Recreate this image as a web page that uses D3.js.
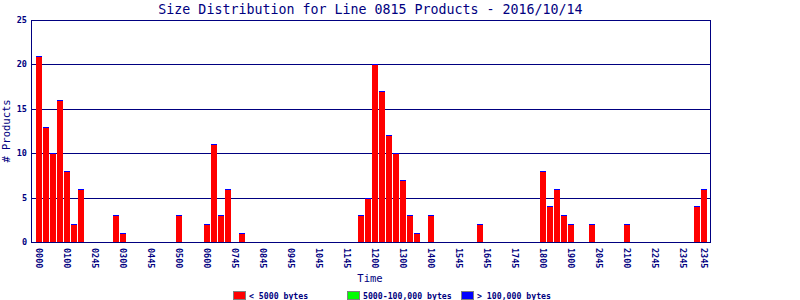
<!DOCTYPE html>
<html>
<head>
<meta charset="utf-8">
<script src="https://cdn.jsdelivr.net/npm/d3@7"></script>
<style>
body { margin:0; background:#fff; }
text { font-family:"DejaVu Sans Mono", monospace; fill:#000080; }
rect, line { shape-rendering:crispEdges; }
</style>
</head>
<body>
<svg id="chart"></svg>
<script>
// one slot every 15 minutes, 96 slots in the day
var slots = d3.range(96);

// products under 5000 bytes per slot (index -> count)
var smallCounts = [21,13,10,16,8,2,6,0,0,0,0,3,1,0,0,0,0,0,0,0,
                   3,0,0,0,2,11,3,6,0,1,0,0,0,0,0,0,0,0,0,0,
                   0,0,0,0,0,0,3,5,20,17,12,10,7,3,1,0,3,0,0,0,
                   0,0,0,2,0,0,0,0,0,0,0,0,8,4,6,3,2,0,0,2,
                   0,0,0,0,2,0,0,0,0,0,0,0,0,0,4,6];
// 5000-100,000 bytes and > 100,000 bytes (none on this day)
var mediumCounts = slots.map(function(){ return 0; });
var largeCounts = slots.map(function(){ return 0; });

var tickSlots = [0,4,8,12,16,20,24,28,32,36,40,44,48,52,56,60,64,68,72,76,80,84,88,92,95];
var tickLabels = ["0000","0100","0245","0300","0445","0500","0600","0745","0845","0945",
                  "1045","1145","1200","1300","1400","1545","1645","1745","1800","1900",
                  "2045","2100","2245","2345","2345"];
var yTicks = [0,5,10,15,20,25];

var legendNames = ["< 5000 bytes","5000-100,000 bytes","> 100,000 bytes"];
var legendColors = ["#ff0000","#00ff00","#0000ff"];

var screen = {width:800, height:300};
var plot = {left:31, right:710, top:20, bottom:242};
var navy = "#000080";

var svg = d3.select("#chart")
    .attr("width",screen.width)
    .attr("height",screen.height);

var xScale = d3.scaleBand()
    .domain(slots)
    .range([36,707])
    .paddingInner(1/7)
    .paddingOuter(0);

var yScale = d3.scaleLinear()
    .domain([0,25])
    .range([plot.bottom,plot.top]);

var crisp = function(v){ return Math.round(v)+0.5; };
var total = function(i){ return smallCounts[i]+mediumCounts[i]+largeCounts[i]; };

// title
svg.append("text")
    .attr("x",(plot.left+plot.right)/2)
    .attr("y",14)
    .attr("text-anchor","middle")
    .style("font-size","13.3px")
    .text("Size Distribution for Line 0815 Products - 2016/10/14");

// grid lines
svg.append("g")
    .selectAll("line")
    .data(yTicks.slice(1,-1))
    .enter()
    .append("line")
    .attr("x1",plot.left)
    .attr("x2",plot.right)
    .attr("y1",function(d){ return crisp(yScale(d)); })
    .attr("y2",function(d){ return crisp(yScale(d)); })
    .attr("stroke",navy);

var filled = slots.filter(function(i){ return total(i) > 0; });

// bars (stacked: small at the bottom)
var bars = svg.append("g");
bars.selectAll("rect.small")
    .data(filled)
    .enter()
    .append("rect")
    .attr("x",function(i){ return xScale(i); })
    .attr("width",xScale.bandwidth())
    .attr("y",function(i){ return Math.round(yScale(smallCounts[i])); })
    .attr("height",function(i){ return yScale(0)-Math.round(yScale(smallCounts[i])); })
    .attr("fill",legendColors[0]);

// the top series is drawn as a cap of at least 1px on every bar
bars.selectAll("rect.large")
    .data(filled)
    .enter()
    .append("rect")
    .attr("x",function(i){ return xScale(i); })
    .attr("width",xScale.bandwidth())
    .attr("y",function(i){ return Math.round(yScale(total(i))); })
    .attr("height",function(i){
        return Math.max(1,Math.round(yScale(0)-yScale(largeCounts[i])));
    })
    .attr("fill",legendColors[2]);

// frame
svg.append("rect")
    .attr("x",plot.left+0.5)
    .attr("y",plot.top+0.5)
    .attr("width",plot.right-plot.left)
    .attr("height",plot.bottom-plot.top)
    .attr("fill","none")
    .attr("stroke",navy);

// y labels
svg.append("g")
    .selectAll("text")
    .data(yTicks)
    .enter()
    .append("text")
    .attr("x",27)
    .attr("y",function(d){ return yScale(d)+3; })
    .attr("text-anchor","end")
    .style("font-size","8.5px")
    .style("font-weight","bold")
    .text(function(d){ return d; });

// x labels
svg.append("g")
    .selectAll("text")
    .data(tickSlots)
    .enter()
    .append("text")
    .attr("transform",function(i){
        return "translate("+(xScale(i)+xScale.bandwidth()/2)+",248) rotate(90)";
    })
    .attr("dy","0.35em")
    .style("font-size","8.5px")
    .style("font-weight","bold")
    .text(function(i,k){ return tickLabels[k]; });

// axis titles
svg.append("text")
    .attr("transform","translate(10,131) rotate(-90)")
    .attr("text-anchor","middle")
    .style("font-size","10.5px")
    .text("# Products");

svg.append("text")
    .attr("x",370)
    .attr("y",282)
    .attr("text-anchor","middle")
    .style("font-size","10.5px")
    .text("Time");

// legend
var legendX = [233,347,461];
var legend = svg.append("g")
    .selectAll("g")
    .data(legendNames)
    .enter()
    .append("g")
    .attr("transform",function(d,k){ return "translate("+legendX[k]+",291)"; });
legend.append("rect")
    .attr("x",0.5)
    .attr("y",0.5)
    .attr("width",12)
    .attr("height",8)
    .attr("fill",function(d,k){ return legendColors[k]; })
    .attr("stroke","#808080");
legend.append("text")
    .attr("x",16)
    .attr("y",8)
    .style("font-size","8.2px")
    .style("font-weight","bold")
    .text(function(d){ return d; });
</script>
</body>
</html>
